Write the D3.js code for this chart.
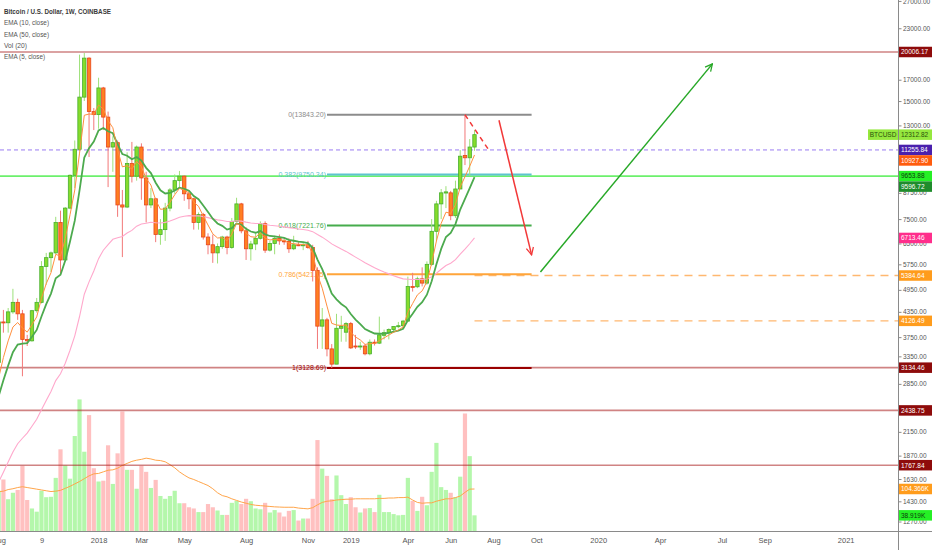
<!DOCTYPE html>
<html><head><meta charset="utf-8">
<script src="https://cdn.jsdelivr.net/npm/d3@7"></script>
<style>
html,body{margin:0;padding:0;background:#fff;}
svg{display:block;font-family:"Liberation Sans",Arial,sans-serif;}
</style></head><body>
<svg id="chart" width="932" height="550"></svg>
<script>
// ---------- DATA (weekly BTC/USD, Coinbase) ----------
const firstWeek = "2017-08-07";
const lastWeek  = "2019-07-08";
const open = [3230,4100,4080,4350,4600,4300,3700,3670,4380,4600,
  5680,5980,6150,7350,5900,8000,9700,11300,15350,19300,
  14100,13850,16200,13650,11450,11750,8150,8050,10400,9650,
  11450,9550,8150,8450,6850,7050,8000,8900,9400,9650,
  8700,8450,7350,7700,6750,6450,6150,6380,6750,6350,
  7400,8200,7000,6300,6480,6700,7300,6250,6500,6700,
  6600,6580,6300,6450,6420,6450,6350,5550,4000,4150,
  3500,3200,3950,3860,4060,3560,3540,3560,3400,3640,
  3620,3790,3850,3920,3990,4010,4120,5050,5040,5280,
  5150,5750,6980,8200,8740,8750,7650,8950,10900,10750,
  11450];
const high = [4200,4400,4450,4980,4700,4400,3800,4400,4720,5860,
  6150,6200,7600,7880,8050,9750,11900,19700,19891,19400,
  14400,17200,16300,14100,12200,11900,8900,11100,11800,11550,
  11700,9900,9000,8500,7500,8250,9000,9750,9950,9700,
  8850,8500,7800,7780,6900,6850,6500,6800,6800,7550,
  8500,8250,7150,6600,6900,7400,7400,6600,6800,6850,
  6700,6700,6800,6550,6550,6600,6450,5650,4450,4200,
  3600,4300,4250,4100,4100,3800,3650,3600,3700,3700,
  4230,3920,3950,4000,4100,4150,5350,5470,5350,5650,
  5850,7500,8350,8950,9100,8850,9400,11250,13843.2,12000,
  12650];
const low = [3200,3850,3850,4300,4150,2980,3560,3650,4330,4570,
  5100,5500,6100,5450,5850,7950,9000,11200,15000,10800,
  12650,12750,12650,9050,9900,7600,6000,8000,9300,9400,
  8400,7350,8000,6550,6450,6600,7850,8700,8950,8350,
  7950,7050,7050,6650,6100,5800,5780,6300,6100,6300,
  7400,6900,5900,5880,6250,6650,6150,6200,6100,6450,
  6450,6150,6250,6400,6250,6300,5200,3500,3500,3350,
  3128.69,3200,3650,3650,3500,3500,3480,3370,3370,3570,
  3600,3700,3700,3850,3950,3950,4100,4900,5000,5050,
  5100,5700,6600,7500,8000,7450,7550,8950,10300,9650,
  11200];
const close = [4100,4080,4350,4600,4300,3700,3670,4380,4600,5680,
  5980,6150,7350,5900,8000,9700,11300,15350,19300,14100,
  13850,16200,13650,11450,11750,8150,8050,10400,9650,11450,
  9550,8150,8450,6850,7050,8000,8900,9400,9650,8700,
  8450,7350,7700,6750,6450,6150,6380,6750,6350,7400,
  8200,7000,6300,6480,6700,7300,6250,6500,6700,6600,
  6580,6300,6450,6420,6450,6350,5550,4000,4150,3500,
  3200,3950,3990,4060,3520,3540,3560,3400,3640,3620,
  3800,3850,3920,3990,4010,4120,5050,5030,5280,5150,
  5750,6980,8200,8750,8800,7650,8950,10850,10750,11450,
  12312.82];
// volume in thousands (K)
const volume = [100,128,79,95,102,162,77,56,48,100,
  84,85,132,203,163,130,236,327,197,288,
  156,123,125,213,117,193,297,152,152,105,
  162,147,107,127,87,80,87,100,69,69,
  59,56,47,47,67,59,51,40,40,70,
  75,67,80,74,56,54,70,46,52,46,
  36,50,52,26,31,31,80,226,155,137,
  79,138,89,67,84,59,46,56,57,47,
  90,47,47,42,39,40,132,75,50,85,
  64,147,219,109,102,95,84,135,292,186,
  38.919];
const volMA = [97.7,99,103,105,108,110,108,106,104,102,
  100,98,99,101,106,111,117,123,130,137,
  142,143,147,151,152,156,163,168,173,176,
  178,181,179,176,175,172,165,157,147,139,
  132,128,123,118,113,105,95,88,85,80,
  76,72,69,66,64,63,62,61,60,59.5,
  59,59,59,57,56,55,58,65,71,74,
  75,77,78,79,79,80,80,80,80,80,
  81,81,82,82,83,83,84,77,71,69,
  70,70,74,77,80,80,83,87,96,104,
  104.366];
const ema5 = [2950,3327,3668,3979,4086,3957,3861,4034,4223,4709,
  5133,5472,6098,6032,6688,7692,8895,11047,13798,13899,
  13883,14655,14320,13363,12825,11267,10195,10263,10059,10523,
  10199,9516,9161,8391,7944,7963,8275,8650,8983,8889,
  8743,8279,8086,7641,7244,6879,6713,6725,6600,6867,
  7311,7207,6905,6763,6742,6928,6702,6635,6657,6638,
  6619,6513,6492,6468,6462,6425,6133,5422,4998,4499,
  4066,4027,4015,4030,3860,3753,3689,3593,3609,3613,
  3675,3733,3795,3860,3910,3980,4337,4568,4805,4920,
  5197,5791,6594,7313,7809,7756,8154,9053,9619,10229,
  10927.9];
const ema10 = [2650,2910,3172,3432,3590,3610,3621,3759,3912,4233,
  4551,4842,5298,5407,5878,6573,7432,8872,10768,11374,
  11824,12620,12807,12560,12413,11638,10986,10879,10656,10800,
  10573,10132,9826,9285,8879,8719,8752,8870,9012,8955,
  8863,8588,8427,8122,7818,7515,7309,7207,7051,7114,
  7311,7254,7081,6972,6923,6992,6857,6792,6775,6743,
  6713,6638,6604,6571,6549,6513,6338,5913,5592,5212,
  4846,4683,4557,4467,4295,4158,4049,3931,3878,3831,
  3825,3830,3846,3872,3897,3938,4140,4302,4480,4602,
  4811,5205,5750,6295,6750,6914,7284,7932,8444,8991,
  9596.72];
const ema50 = [1600,1697,1801,1911,2005,2071,2134,2222,2315,2447,
  2585,2725,2906,3023,3218,3472,3779,4233,4824,5188,
  5528,5946,6248,6452,6660,6718,6770,6912,7019,7193,
  7285,7319,7363,7343,7332,7358,7418,7496,7580,7624,
  7656,7644,7646,7611,7565,7510,7466,7438,7395,7395,
  7427,7410,7366,7331,7306,7306,7265,7235,7214,7190,
  7166,7132,7105,7078,7053,7025,6967,6851,6745,6618,
  6484,6385,6291,6204,6099,5999,5903,5805,5720,5638,
  5566,5499,5437,5380,5326,5279,5270,5261,5262,5258,
  5277,5344,5456,5585,5711,5787,5911,6105,6287,6489,
  6713.46];

const priceTicks = [27000,23000,17000,15000,13000,8750,7500,6500,5750,4950,4350,3750,3350,2850,2150,1870,1630,1430,1270];
const timeTickDates = ["2017-08-07","2017-10-09","2018-01-01","2018-03-05","2018-05-07","2018-08-06","2018-11-05","2019-01-07","2019-04-01","2019-06-03","2019-08-05","2019-10-07","2020-01-06","2020-04-06","2020-07-06","2020-09-07","2021-01-04"];
const timeTickLabels = ["Aug","9","2018","Mar","May","Aug","Nov","2019","Apr","Jun","Aug","Oct","2020","Apr","Jul","Sep","2021"];

const redLevels = [20006.17, 3134.46, 2438.75, 1767.84];
const dashedLevel = 11255.84;
const greenLevel = 9653.88;
const fibRatios = ["0","0.382","0.618","0.786","1"];
const fibPrices = [13843.20, 9750.34, 7221.76, 5421.75, 3128.69];
const fibDates = ["2018-12-03","2019-09-30"];
const targetLevels = [5384.64, 4126.49];
const targetStart = "2019-07-08";
const projDates = ["2019-06-24","2019-07-29"];  const projPrices = [13843.2, 11255.84];
const dropDates = ["2019-08-13","2019-09-30"];  const dropPrices = [13400, 6080];
const riseDates = ["2019-10-13","2020-06-22"];  const risePrices = [5500, 18660];

const legendLines = ["Bitcoin / U.S. Dollar, 1W, COINBASE","EMA (10, close)","EMA (50, close)","Vol (20)","EMA (5, close)"];
const legendWidths = [107, 45, 45, 23, 41];

// ---------- SCALES ----------
const W = 932, H = 550, plotR = 898, plotB = 531;
const svg = d3.select("#chart");
const x = d3.scaleUtc().domain([new Date("2017-08-09"), new Date("2021-03-22")]).range([0, plotR]);
const y = d3.scaleLog().domain([1201.3, 27150]).range([plotB, 0]);
const yv = d3.scaleLinear().domain([0, 1319.5]).range([plotB, 0]);
const weeks = d3.utcMonday.range(new Date(firstWeek), d3.utcMonday.offset(new Date(lastWeek), 1));
const bars = weeks.map((d, i) => ({d, o: open[i], h: high[i], l: low[i], c: close[i], v: volume[i], vm: volMA[i], e5: ema5[i], e10: ema10[i], e50: ema50[i]}));

const defs = svg.append("defs");
defs.append("clipPath").attr("id","plot").append("rect").attr("x",0).attr("y",0).attr("width",plotR).attr("height",plotB);
const plot = svg.append("g").attr("clip-path","url(#plot)");

// ---------- VOLUME ----------
plot.append("g").selectAll("rect").data(bars).join("rect")
  .attr("x", b => x(b.d) - 2.1).attr("width", 4.2)
  .attr("y", b => yv(b.v)).attr("height", b => plotB - yv(b.v))
  .attr("fill", b => b.c >= b.o ? "#b4f7ab" : "#ffc0c0");
plot.append("path").datum(bars)
  .attr("d", d3.line().x(b => x(b.d)).y(b => yv(b.vm)))
  .attr("fill","none").attr("stroke","#ffa54a").attr("stroke-width",1);

// ---------- HORIZONTAL LEVELS ----------
const hl = plot.append("g");
hl.selectAll(".red").data(redLevels).join("line")
  .attr("x1",0).attr("x2",plotR).attr("y1",d=>y(d)).attr("y2",d=>y(d))
  .attr("stroke","rgba(170,30,30,0.55)").attr("stroke-width",1.6);
hl.append("line").attr("x1",0).attr("x2",plotR).attr("y1",y(dashedLevel)).attr("y2",y(dashedLevel))
  .attr("stroke","#9a7cf2").attr("stroke-width",1).attr("stroke-dasharray","4,3");
hl.append("line").attr("x1",0).attr("x2",plotR).attr("y1",y(greenLevel)).attr("y2",y(greenLevel))
  .attr("stroke","#6cf06c").attr("stroke-width",1.6);
hl.selectAll(".tgt").data(targetLevels).join("line")
  .attr("x1",x(new Date(targetStart))).attr("x2",plotR).attr("y1",d=>y(d)).attr("y2",d=>y(d))
  .attr("stroke","#ffb870").attr("stroke-width",1.4).attr("stroke-dasharray","8,6");

// fib
const fibColors = ["#8c8c8c","#5ec3cf","#46ac4c","#ffa53a","#9a0000"];
const fx1 = x(new Date(fibDates[0])), fx2 = x(new Date(fibDates[1]));
fibPrices.forEach((p,i) => {
  hl.append("line").attr("x1",fx1).attr("x2",fx2).attr("y1",y(p)).attr("y2",y(p))
    .attr("stroke",fibColors[i]).attr("stroke-width",2);
  hl.append("text").attr("x",fx1-1).attr("y",y(p)+2.5).attr("text-anchor","end")
    .attr("font-size",7).attr("fill",fibColors[i]).text(`${fibRatios[i]}(${p.toFixed(2)})`);
});

// ---------- CANDLES ----------
const cg = plot.append("g");
cg.selectAll(".wick").data(bars).join("line")
  .attr("x1", b => x(b.d)).attr("x2", b => x(b.d))
  .attr("y1", b => y(b.h)).attr("y2", b => y(b.l))
  .attr("stroke", b => b.c >= b.o ? "#9ee07a" : "#f27878").attr("stroke-width",1);
cg.selectAll(".body").data(bars).join("rect")
  .attr("x", b => x(b.d) - 1.7).attr("width", 3.4)
  .attr("y", b => y(Math.max(b.o,b.c)))
  .attr("height", b => Math.max(1, y(Math.min(b.o,b.c)) - y(Math.max(b.o,b.c))))
  .attr("fill", b => b.c >= b.o ? "#86dc2c" : "#ff7f22")
  .attr("stroke", b => b.c >= b.o ? "#47b02e" : "#e8461c").attr("stroke-width",0.8);

// ---------- EMAs ----------
const emaLine = key => d3.line().x(b => x(b.d)).y(b => y(b[key]));
plot.append("path").datum(bars).attr("d", emaLine("e50")).attr("fill","none").attr("stroke","#ffa8cc").attr("stroke-width",1.1);
plot.append("path").datum(bars).attr("d", emaLine("e10")).attr("fill","none").attr("stroke","#4caa4e").attr("stroke-width",1.8);
plot.append("path").datum(bars).attr("d", emaLine("e5")).attr("fill","none").attr("stroke","#ff8f3e").attr("stroke-width",1);

// ---------- ARROWS ----------
[["redHead","#f23838"],["greenHead","#27a827"]].forEach(([id,col]) => {
  defs.append("marker").attr("id",id).attr("viewBox","0 0 10 10").attr("refX",9).attr("refY",5)
    .attr("markerWidth",9).attr("markerHeight",9).attr("markerUnits","userSpaceOnUse").attr("orient","auto")
    .append("path").attr("d","M1,1 L9,5 L1,9").attr("fill","none").attr("stroke",col).attr("stroke-width",1.4);
});
const pt = (ds, ps) => ds.map((d,i) => [x(new Date(d)), y(ps[i])]);
const ln = d3.line();
plot.append("path").attr("d", ln(pt(projDates, projPrices))).attr("stroke","#f23838").attr("stroke-width",1.5).attr("stroke-dasharray","5,4").attr("fill","none");
plot.append("path").attr("d", ln(pt(dropDates, dropPrices))).attr("stroke","#f23838").attr("stroke-width",1.5).attr("fill","none").attr("marker-end","url(#redHead)");
plot.append("path").attr("d", ln(pt(riseDates, risePrices))).attr("stroke","#27a827").attr("stroke-width",1.5).attr("fill","none").attr("marker-end","url(#greenHead)");

// ---------- LEGEND ----------
svg.append("g").selectAll("text").data(legendLines).join("text")
  .attr("x",4).attr("y",(d,i)=> 14 + i*11.3)
  .attr("font-size",7.5).attr("font-weight",(d,i)=> i===0 ? 700 : 400)
  .attr("fill",(d,i)=> i===0 ? "#3a3a3a" : "#555")
  .attr("textLength",(d,i)=>legendWidths[i]).attr("lengthAdjust","spacingAndGlyphs")
  .text(d=>d);

// ---------- AXES ----------
svg.append("line").attr("x1",plotR+0.5).attr("x2",plotR+0.5).attr("y1",0).attr("y2",H).attr("stroke","#8a8a8a");
svg.append("line").attr("x1",0).attr("x2",W).attr("y1",plotB+0.5).attr("y2",plotB+0.5).attr("stroke","#8a8a8a");

const ya = svg.append("g").attr("transform",`translate(${plotR+0.5},0)`)
  .call(d3.axisRight(y).tickValues(priceTicks).tickFormat(d3.format(".2f")).tickSize(3).tickPadding(1.5));
ya.select(".domain").remove();
ya.selectAll("line").attr("stroke","#8a8a8a");
ya.selectAll("text").attr("font-size",6.5).attr("fill","#555").attr("font-family",null);

const xa = svg.append("g").attr("transform",`translate(0,${plotB})`)
  .call(d3.axisBottom(x).tickValues(timeTickDates.map(d=>new Date(d))).tickFormat((d,i)=>timeTickLabels[i]).tickSize(0).tickPadding(7));
xa.select(".domain").remove();
xa.selectAll("text").attr("font-size",7.5).attr("fill","#555").attr("font-family",null);

// ---------- PRICE BADGES ----------
const badgeValues = [20006.17, 12312.82, 11255.84, 10927.90, 9653.88, 9596.72, 6713.46, 5384.64, 4126.49, 3134.46, 2438.75, 1767.84];
const badgeFill = ["#8e0b0b","#95e83e","#4a20ad","#ff5c0e","#25f025","#1f8c2c","#ff2e8c","#ff9c1c","#ff9c1c","#8e0b0b","#8e0b0b","#8e0b0b"];
const badgeInk  = ["#fff","#2b520c","#fff","#fff","#0c3d0c","#fff","#fff","#fff","#fff","#fff","#fff","#fff"];
const volBadges = [104.366, 38.919];
const volBadgeText = ["104.366K","38.919K"];
const volFill = ["#ff9c1c","#25f025"], volInk = ["#fff","#0c3d0c"];

let badges = badgeValues.map((v,i)=>({yy:y(v), text:v.toFixed(2), fill:badgeFill[i], ink:badgeInk[i]}))
  .concat(volBadges.map((v,i)=>({yy:yv(v), text:volBadgeText[i], fill:volFill[i], ink:volInk[i]})));
badges.sort((a,b)=>a.yy-b.yy);
const BH = 10.5;
for (let i=1;i<badges.length;i++){ if (badges[i].yy - badges[i-1].yy < BH) badges[i].yy = badges[i-1].yy + BH; }
const bg = svg.append("g");
badges.forEach(b=>{
  bg.append("rect").attr("x",plotR+1).attr("y",b.yy-BH/2).attr("width",W-plotR-1).attr("height",BH).attr("fill",b.fill);
  bg.append("text").attr("x",plotR+3).attr("y",b.yy+2.4).attr("font-size",6.5).attr("fill",b.ink).text(b.text);
});
// BTCUSD tag
const lastY = y(close[close.length-1]);
bg.append("rect").attr("x",868).attr("y",lastY-BH/2).attr("width",plotR-868).attr("height",BH).attr("fill","#95e83e");
bg.append("text").attr("x",(868+plotR)/2).attr("y",lastY+2.4).attr("text-anchor","middle").attr("font-size",6.5).attr("fill","#2b520c").text("BTCUSD");
</script>
</body></html>
